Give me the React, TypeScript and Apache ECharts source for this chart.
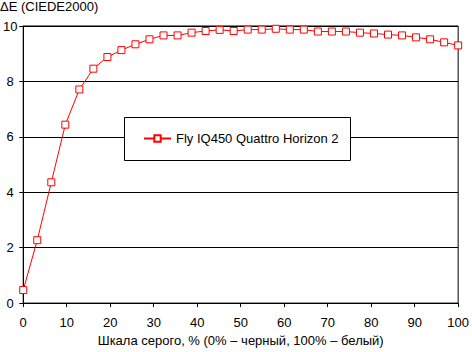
import React, { useEffect, useRef } from "react";
import * as echarts from "echarts";

const seriesName = "Fly IQ450 Quattro Horizon 2";
const grayPercent: number[] = Array.from({ length: 32 }, (_, i) => (i * 100) / 31);
const deltaE: number[] = [
  0.47, 2.27, 4.36, 6.44, 7.71, 8.46, 8.88, 9.13, 9.34, 9.52, 9.66, 9.66, 9.76, 9.82, 9.86, 9.82,
  9.87, 9.87, 9.9, 9.87, 9.87, 9.8, 9.8, 9.8, 9.76, 9.73, 9.69, 9.66, 9.59, 9.52, 9.41, 9.3,
];
const yTitle = "ΔE (CIEDE2000)";
const xTitle = "Шкала серого, % (0% – черный, 100% – белый)";

const FONT = "Liberation Sans";

export default function App() {
  const ref = useRef<HTMLDivElement>(null);
  useEffect(() => {
    document.body.style.margin = "0";
    if (!ref.current) return;
    const chart = echarts.init(ref.current, undefined, { renderer: "svg" });
    chart.setOption({
      animation: false,
      backgroundColor: "#fff",
      textStyle: { fontFamily: FONT, color: "#000" },
      grid: {
        left: 23,
        right: 10,
        top: 26,
        bottom: 43,
        show: true,
        borderColor: "#000",
        borderWidth: 1,
        backgroundColor: "transparent",
      },
      graphic: [
        {
          type: "text",
          left: 0,
          top: 0,
          style: { text: yTitle, font: `13px "${FONT}"`, fill: "#000" },
        },
        {
          type: "rect",
          z: 3,
          shape: { x: 124.5, y: 117.5, width: 226, height: 43 },
          style: { fill: "#fff", stroke: "#000", lineWidth: 1 },
        },
      ],
      legend: {
        left: 143,
        top: 132,
        padding: 0,
        itemWidth: 27,
        itemHeight: 8,
        z: 5,
        textStyle: { fontFamily: FONT, fontSize: 13, color: "#000" },
        data: [seriesName],
      },
      xAxis: {
        type: "value",
        min: 0,
        max: 100,
        interval: 10,
        name: xTitle,
        nameLocation: "middle",
        nameGap: 30,
        nameTextStyle: { fontFamily: FONT, fontSize: 13, color: "#000", verticalAlign: "top" },
        axisLine: { lineStyle: { color: "#000", width: 1 } },
        axisTick: { show: true, length: 4, lineStyle: { color: "#000" } },
        axisLabel: { fontFamily: FONT, fontSize: 13, color: "#000", margin: 13 },
        splitLine: { show: false },
      },
      yAxis: {
        type: "value",
        min: 0,
        max: 10,
        interval: 2,
        axisLine: { show: true, lineStyle: { color: "#000", width: 1 } },
        axisTick: { show: true, length: 4, lineStyle: { color: "#000" } },
        axisLabel: { fontFamily: FONT, fontSize: 13, color: "#000", margin: 13, align: "center" },
        splitLine: { show: true, lineStyle: { color: "#000", width: 1 } },
      },
      series: [
        {
          name: seriesName,
          type: "line",
          data: grayPercent.map((x, i) => [x, deltaE[i]]),
          symbol: "rect",
          symbolSize: 7,
          showAllSymbol: true,
          lineStyle: { color: "#ff0000", width: 1 },
          itemStyle: { color: "#fff", borderColor: "#ff0000", borderWidth: 1 },
          z: 6,
        },
      ],
    });
    return () => chart.dispose();
  }, []);
  return <div ref={ref} style={{ width: 472, height: 352 }} />;
}
